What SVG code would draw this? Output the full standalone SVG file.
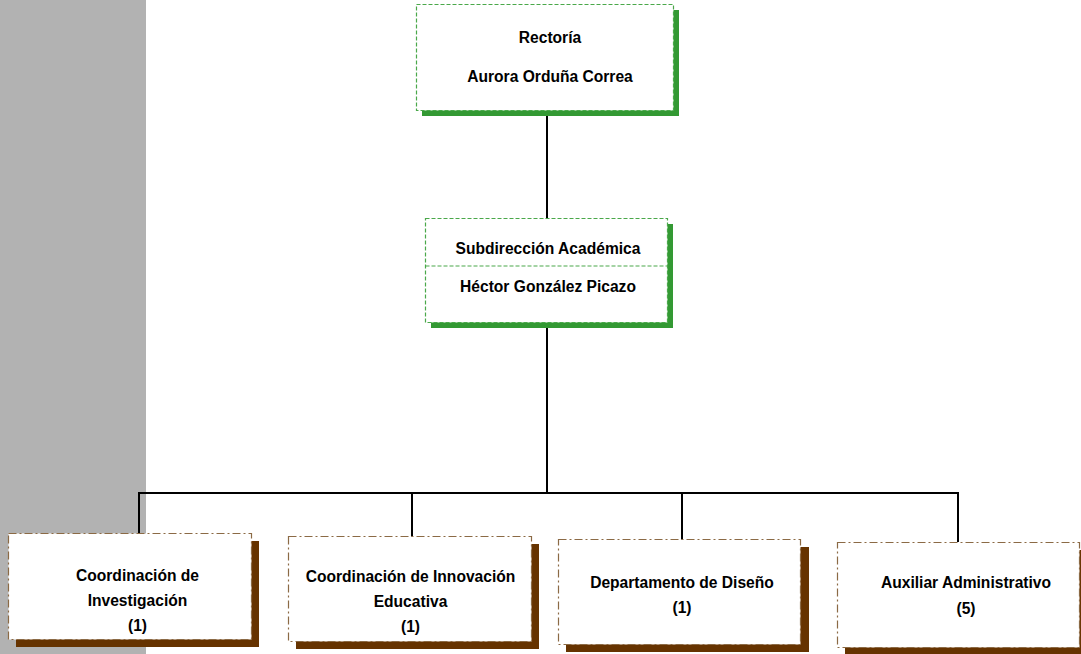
<svg xmlns="http://www.w3.org/2000/svg" width="1081" height="654" viewBox="0 0 1081 654">
<style>
.t{font-family:"Liberation Sans",Arial,sans-serif;font-weight:bold;font-size:15.6px;fill:#000;text-anchor:middle}
.gs{fill:#339933}
.gb{fill:#fff;stroke:#4aa84a;stroke-width:1.2;stroke-dasharray:4 2}
.bs{fill:#663300}
.bb{fill:#fff;stroke:#8b6a45;stroke-width:1.2;stroke-dasharray:8 3 2 3}
.c{stroke:#000;stroke-width:2;fill:none}
</style>
<rect x="0" y="0" width="146" height="654" fill="#b2b2b2"/>
<g id="connectors">
<line class="c" x1="547" y1="116" x2="547" y2="218"/>
<line class="c" x1="547" y1="328" x2="547" y2="493"/>
<line class="c" x1="139" y1="493" x2="958" y2="493"/>
<line class="c" x1="139" y1="492" x2="139" y2="534"/>
<line class="c" x1="412" y1="492" x2="412" y2="537"/>
<line class="c" x1="682" y1="492" x2="682" y2="540"/>
<line class="c" x1="958" y1="492" x2="958" y2="542"/>
</g>
<g id="rectoria">
<rect class="gs" x="422" y="10" width="257" height="106"/>
<rect class="gb" x="416.5" y="4.5" width="257" height="106"/>
<text class="t" x="550" y="43">Rectoría</text>
<text class="t" x="550" y="82">Aurora Orduña Correa</text>
</g>
<g id="subdireccion">
<rect class="gs" x="431" y="224" width="242" height="104"/>
<rect class="gb" x="425.5" y="218.5" width="242" height="104"/>
<line class="gb" x1="425.5" y1="266" x2="667.5" y2="266"/>
<text class="t" x="548" y="254">Subdirección Académica</text>
<text class="t" x="548" y="292">Héctor González Picazo</text>
</g>
<g id="investigacion">
<rect class="bs" x="16" y="541" width="243" height="106"/>
<rect class="bb" x="8.5" y="533.5" width="243" height="106"/>
<text class="t" x="137.5" y="581">Coordinación de</text>
<text class="t" x="137.5" y="606">Investigación</text>
<text class="t" x="137.5" y="631">(1)</text>
</g>
<g id="innovacion">
<rect class="bs" x="296" y="544" width="243" height="105"/>
<rect class="bb" x="288.5" y="536.5" width="243" height="105"/>
<text class="t" x="410.5" y="582">Coordinación de Innovación</text>
<text class="t" x="410.5" y="607">Educativa</text>
<text class="t" x="410.5" y="632">(1)</text>
</g>
<g id="diseno">
<rect class="bs" x="566" y="547" width="243" height="105"/>
<rect class="bb" x="558.5" y="539.5" width="242" height="105"/>
<text class="t" x="682" y="588">Departamento de Diseño</text>
<text class="t" x="682" y="613">(1)</text>
</g>
<g id="auxiliar">
<rect class="bs" x="845" y="550" width="243" height="104"/>
<rect class="bb" x="837.5" y="542.5" width="242" height="105"/>
<text class="t" x="966" y="588">Auxiliar Administrativo</text>
<text class="t" x="966" y="614">(5)</text>
</g>
</svg>
